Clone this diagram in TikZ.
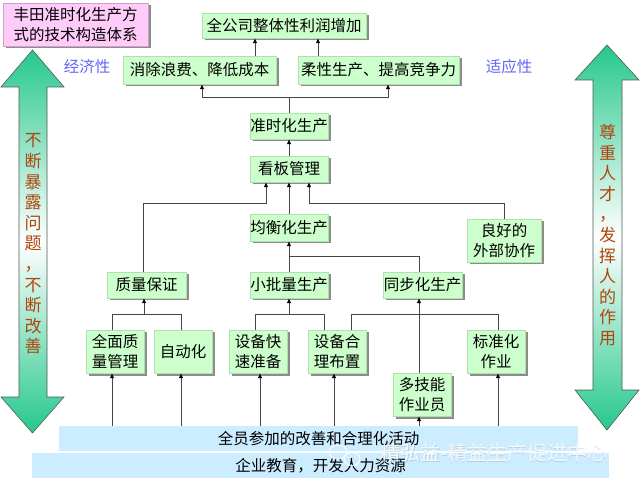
\documentclass[tikz,border=0pt]{standalone}
\usepackage{fontspec}
\setmainfont{Noto Sans CJK SC}
\usetikzlibrary{arrows.meta,shadows}
\definecolor{boxgreen}{RGB}{204,255,204}
\definecolor{boxedge}{RGB}{175,225,175}
\definecolor{boxpink}{RGB}{255,204,250}
\definecolor{barblue}{RGB}{204,236,255}
\definecolor{arrgreen}{RGB}{38,200,140}
\definecolor{arredge}{RGB}{80,90,85}
\definecolor{brown}{RGB}{176,70,14}
\definecolor{violet}{RGB}{100,100,250}
\definecolor{linegray}{RGB}{70,70,70}
\tikzset{
  gbox/.style={draw=boxedge, line width=0.4pt, fill=boxgreen, inner sep=0pt, align=center,
    font=\fontsize{15.5}{19.5}\selectfont,
    drop shadow={shadow xshift=2.5pt, shadow yshift=-2.5pt, fill=black!45, opacity=1}},
  pbox/.style={gbox, fill=boxpink, draw=boxpink!80!black},
  bar/.style={fill=barblue, inner sep=0pt, font=\fontsize{15.5}{19.5}\selectfont},
  conn/.style={draw=linegray, line width=0.8pt},
  arr/.style={conn, -{Latex[length=5pt,width=4.5pt,color=black]}},
  sidearrow/.style={draw=arredge, line width=0.6pt, top color=arrgreen, bottom color=arrgreen, middle color=white},
  vtext/.style={text=brown, align=center, inner sep=0pt, font=\fontsize{17}{20.6}\selectfont},
  lbl/.style={text=violet, inner sep=0pt, font=\fontsize{15.5}{18}\selectfont},
  wmark/.style={inner sep=0pt, anchor=west, font=\fontsize{20}{22}\selectfont}
}
\begin{document}
\begin{tikzpicture}[x=1pt,y=-1pt]
\useasboundingbox (0,0) rectangle (640,486);
\fill[white] (0,0) rectangle (640,486);

% side arrows
\path[sidearrow] (32.5,50) -- (64,87) -- (47,87) -- (47,397) -- (64,397) -- (32.5,433)
  -- (1,397) -- (19,397) -- (19,87) -- (1,87) -- cycle;
\path[sidearrow] (607,45) -- (639,80) -- (622,80) -- (622,390) -- (639,390) -- (607,430)
  -- (575,390) -- (593,390) -- (593,80) -- (575,80) -- cycle;
\node[vtext] (lefttext) at (33,244) {不\\断\\暴\\露\\问\\题\\，\\不\\断\\改\\善};
\node[vtext] (righttext) at (607.5,235) {尊\\重\\人\\才\\，\\发\\挥\\人\\的\\作\\用};

% bottom bars
\node[bar, minimum width=519pt, minimum height=25pt] (bar1) at (318.5,438.5) {全员参加的改善和合理化活动};
\node[bar, minimum width=577pt, minimum height=25pt] (bar2) at (320.5,465.5) {企业教育，开发人力资源};

% boxes
\node[pbox, minimum width=145pt, minimum height=43pt] (title) at (75.5,24.5) {丰田准时化生产方\\式的技术构造体系};
\node[gbox, minimum width=164pt, minimum height=25pt] (profit) at (284,25.5) {全公司整体性利润增加};
\node[gbox, minimum width=153pt, minimum height=28pt] (waste) at (199.5,70) {消除浪费、降低成本};
\node[gbox, minimum width=161pt, minimum height=28pt] (flex) at (378.5,70) {柔性生产、提高竞争力};
\node[lbl] (econ) at (87,67) {经济性};
\node[lbl] (adapt) at (509,67) {适应性};
\node[gbox, minimum width=78pt, minimum height=26pt] (jit) at (289,126) {准时化生产};
\node[gbox, minimum width=78pt, minimum height=26pt] (kanban) at (289,169) {看板管理};
\node[gbox, minimum width=78pt, minimum height=27pt] (level) at (289,227.5) {均衡化生产};
\node[gbox, minimum width=74pt, minimum height=43pt] (coop) at (504,240.5) {良好的\\外部协作};
\node[gbox, minimum width=79pt, minimum height=26pt] (quality) at (146.5,285) {质量保证};
\node[gbox, minimum width=78pt, minimum height=26pt] (small) at (289,285) {小批量生产};
\node[gbox, minimum width=79pt, minimum height=26pt] (sync) at (422.5,285) {同步化生产};
\node[gbox, minimum width=58pt, minimum height=43pt] (tqm) at (115,351.5) {全面质\\量管理};
\node[gbox, minimum width=58pt, minimum height=43pt] (auto) at (183,351.5) {自动化};
\node[gbox, minimum width=58pt, minimum height=43pt] (setup) at (258,351.5) {设备快\\速准备};
\node[gbox, minimum width=58pt, minimum height=43pt] (layout) at (337,351.5) {设备合\\理布置};
\node[gbox, minimum width=58pt, minimum height=43pt] (std) at (496,351.5) {标准化\\作业};
\node[gbox, minimum width=58pt, minimum height=43pt] (multi) at (422,394.5) {多技能\\作业员};

% connectors top
\draw[arr] (waste.north -| 255,0) -- (profit.south -| 255,0);
\draw[arr] (flex.north -| 318,0) -- (profit.south -| 318,0);
\draw[conn] (jit.north) -- (jit.north |- 0,97);
\draw[arr] (jit.north |- 0,97) -| (waste.south -| 202,0);
\draw[arr] (jit.north |- 0,97) -| (flex.south -| 388,0);
\draw[arr] (kanban.north) -- (jit.south);
\draw[arr] (level.north) -- (kanban.south);
\draw[arr] (quality.north -| 143,0) |- (266,203) -- (kanban.south -| 266,0);
\draw[arr] (coop.north) |- (309,203) -- (kanban.south -| 309,0);
\draw[arr] (small.north) -- (level.south);
\draw[conn] (sync.north -| 419,0) |- (small.north |- 0,256);
% middle connectors
\draw[arr] (tqm.north -| 112,0) |- (144,314) -- (quality.south -| 144,0);
\draw[conn] (auto.north -| 181,0) |- (144,314);
\draw[arr] (setup.north -| 255,0) |- (289,314) -- (small.south);
\draw[conn] (layout.north -| 324,0) |- (289,314);
\draw[arr] (layout.north -| 351,0) |- (419,314) -- (sync.south -| 419,0);
\draw[conn] (std.north -| 498,0) |- (419,314);
\draw[conn] (multi.north -| 419,0) -- (419,314);
% bottom connectors
\draw[arr] (bar1.north -| 112,0) -- (tqm.south -| 112,0);
\draw[arr] (bar1.north -| 181,0) -- (auto.south -| 181,0);
\draw[arr] (bar1.north -| 260,0) -- (setup.south -| 260,0);
\draw[arr] (bar1.north -| 334,0) -- (layout.south -| 334,0);
\draw[arr] (bar1.north -| 419,0) -- (multi.south -| 419,0);
\draw[arr] (bar1.north -| 498,0) -- (std.south -| 498,0);

% watermark
\draw[white, opacity=0.8, line width=1.2pt] (338,452) ellipse (9pt and 7pt);
\draw[white, opacity=0.8, line width=1.2pt] (352,459) ellipse (8pt and 6.5pt);
\node[wmark, text=black, opacity=0.12] (wmshadow) at (380.8,453.8) {精弘益-精益生产促进中心};
\node[wmark, text=white, opacity=0.85] (wm) at (380,453) {精弘益-精益生产促进中心};
\end{tikzpicture}
\end{document}
